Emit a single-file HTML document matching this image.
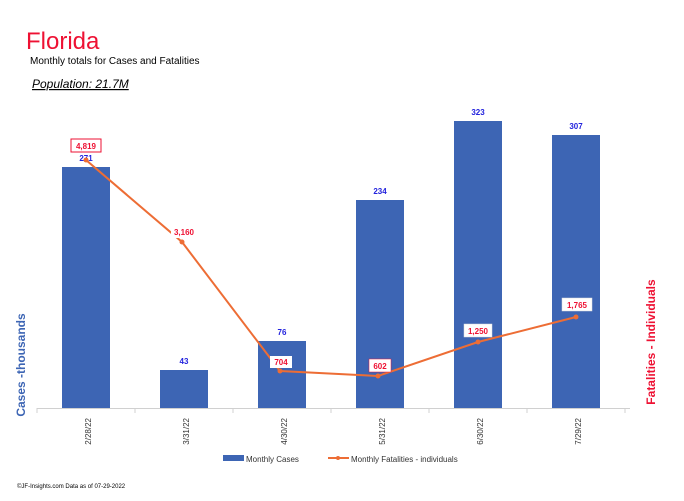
<!DOCTYPE html>
<html><head><style>
body{margin:0;background:#fff;}
svg text{font-family:"Liberation Sans",sans-serif;}
</style></head><body>
<svg width="684" height="496" viewBox="0 0 684 496" xmlns="http://www.w3.org/2000/svg">
<text x="26" y="49" font-size="24" fill="#ee1133">Florida</text>
<text x="30" y="64" font-size="10" fill="#000">Monthly totals for Cases and Fatalities</text>
<text x="32" y="88" font-size="12" font-style="italic" fill="#000" text-decoration="underline">Population: 21.7M</text>
<g fill="#3d65b4">
<rect x="62" y="167" width="48" height="241"/>
<rect x="160" y="370" width="48" height="38"/>
<rect x="258" y="341" width="48" height="67"/>
<rect x="356" y="200" width="48" height="208"/>
<rect x="454" y="121" width="48" height="287"/>
<rect x="552" y="135" width="48" height="273"/>
</g>
<line x1="37" y1="408.5" x2="630" y2="408.5" stroke="#d0d0d0"/>
<g stroke="#d0d0d0"><line x1="37" y1="408" x2="37" y2="413"/><line x1="135" y1="408" x2="135" y2="413"/><line x1="233" y1="408" x2="233" y2="413"/><line x1="331" y1="408" x2="331" y2="413"/><line x1="429" y1="408" x2="429" y2="413"/><line x1="527" y1="408" x2="527" y2="413"/><line x1="625" y1="408" x2="625" y2="413"/></g>
<g font-size="8" fill="#2222dd" font-weight="bold" text-anchor="middle">
<text x="86" y="161">271</text><text x="184" y="364">43</text><text x="282" y="335">76</text>
<text x="380" y="194">234</text><text x="478" y="115">323</text><text x="576" y="129">307</text>
</g>
<polyline points="86,160 182,242 280,371 378,376 478,342 576,317" fill="none" stroke="#ed6d35" stroke-width="2"/>
<g fill="#ed6d35"><circle cx="86" cy="160" r="2.5"/><circle cx="182" cy="242" r="2.5"/><circle cx="280" cy="371" r="2.5"/><circle cx="378" cy="376" r="2.5"/><circle cx="478" cy="342" r="2.5"/><circle cx="576" cy="317" r="2.5"/></g>
<g fill="#fff"><rect x="71" y="139" width="30" height="13" stroke="#ee1133"/><rect x="171" y="226" width="26" height="12"/><rect x="270" y="356" width="22" height="12"/><rect x="369" y="359" width="22" height="13" stroke="#ee1133" stroke-width="0.5"/><rect x="464" y="324" width="28" height="13" stroke="#ddd" stroke-width="0.5"/><rect x="562" y="298" width="30" height="13" stroke="#ddd" stroke-width="0.5"/></g>
<g font-size="8" fill="#ee1133" font-weight="bold" text-anchor="middle">
<text x="86" y="149">4,819</text><text x="184" y="235">3,160</text><text x="281" y="365">704</text>
<text x="380" y="369">602</text><text x="478" y="334">1,250</text><text x="577" y="308">1,765</text>
</g>
<g font-size="8" fill="#333" text-anchor="end">
<text transform="translate(91,418) rotate(-90)">2/28/22</text>
<text transform="translate(189,418) rotate(-90)">3/31/22</text>
<text transform="translate(287,418) rotate(-90)">4/30/22</text>
<text transform="translate(385,418) rotate(-90)">5/31/22</text>
<text transform="translate(483,418) rotate(-90)">6/30/22</text>
<text transform="translate(581,418) rotate(-90)">7/29/22</text>
</g>
<text transform="translate(25,365) rotate(-90)" font-size="12" font-weight="bold" fill="#3d65b4" text-anchor="middle">Cases -thousands</text>
<text transform="translate(655,342) rotate(-90)" font-size="12" font-weight="bold" fill="#ee1133" text-anchor="middle">Fatalities - Individuals</text>
<rect x="223" y="455" width="21" height="6" fill="#3d65b4"/>
<text x="246" y="462" font-size="8" fill="#333">Monthly Cases</text>
<line x1="328" y1="458" x2="349" y2="458" stroke="#ed6d35" stroke-width="2"/><circle cx="338" cy="458" r="2" fill="#ed6d35"/>
<text x="351" y="462" font-size="8" fill="#333">Monthly Fatalities - individuals</text>
<text x="17" y="488" font-size="6" fill="#000">©JF-Insights.com  Data as of 07-29-2022</text>
</svg>
</body></html>
